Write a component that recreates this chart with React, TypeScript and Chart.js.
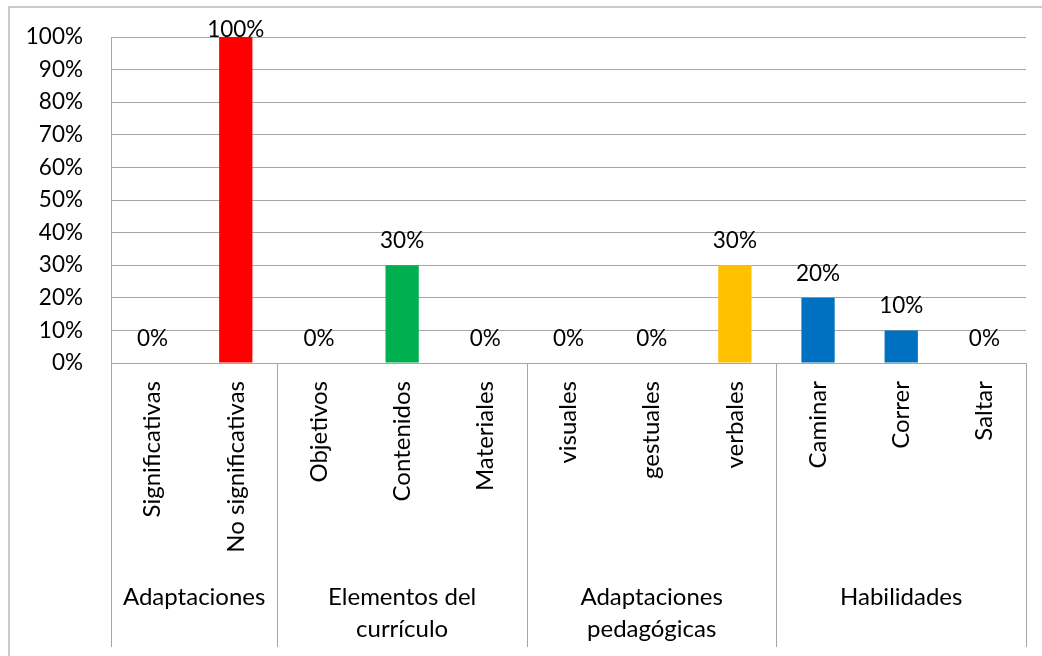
import React, { useEffect, useRef } from "react";
import { Chart, registerables } from "chart.js";

Chart.register(...registerables);

const categories = [
  "Significativas",
  "No significativas",
  "Objetivos",
  "Contenidos",
  "Materiales",
  "visuales",
  "gestuales",
  "verbales",
  "Caminar",
  "Correr",
  "Saltar",
];
const values = [0, 100, 0, 30, 0, 0, 0, 30, 20, 10, 0];
const groupLabels = [
  ["Adaptaciones"],
  ["Elementos del", "currículo"],
  ["Adaptaciones", "pedagógicas"],
  ["Habilidades"],
];
const groupSizes = [2, 3, 3, 3];
const yTicks = { min: 0, max: 100, step: 10 };

const barColors = [
  "#FF0000",
  "#FF0000",
  "#00B050",
  "#00B050",
  "#00B050",
  "#FFC000",
  "#FFC000",
  "#FFC000",
  "#0070C0",
  "#0070C0",
  "#0070C0",
];

const FONT = "Lato";
const FS_NUM = 22.5;
const FS_TXT = 24;
const GRID = "#a6a6a6";

const decorPlugin = {
  id: "decor",
  beforeDraw(chart: any) {
    const ctx = chart.ctx;
    ctx.save();
    ctx.fillStyle = "#ffffff";
    ctx.fillRect(0, 0, chart.width, chart.height);
    ctx.strokeStyle = "#b8b8b8";
    ctx.lineWidth = 1.5;
    ctx.strokeRect(9, 7, chart.width + 20, chart.height + 20);
    ctx.restore();
  },
  afterDraw(chart: any) {
    const ctx = chart.ctx;
    const xs = chart.scales.x;
    const area = chart.chartArea;
    const n = categories.length;
    const w = (area.right - area.left) / n;
    ctx.save();
    ctx.strokeStyle = GRID;
    ctx.lineWidth = 1;
    let idx = 0;
    const bounds = [0];
    groupSizes.forEach((s) => {
      idx += s;
      bounds.push(idx);
    });
    bounds.forEach((b) => {
      const x = Math.round(area.left + b * w) + 0.5;
      ctx.beginPath();
      ctx.moveTo(x, area.bottom);
      ctx.lineTo(x, xs.bottom);
      ctx.stroke();
    });
    ctx.fillStyle = "#000";
    ctx.font = `${FS_TXT}px ${FONT}`;
    ctx.textAlign = "center";
    ctx.textBaseline = "middle";
    for (let g = 0; g < groupLabels.length; g++) {
      const cx = area.left + ((bounds[g] + bounds[g + 1]) / 2) * w;
      groupLabels[g].forEach((line, i) => {
        ctx.fillText(line, cx, xs.bottom - 50 + i * 32);
      });
    }
    // data labels
    const meta = chart.getDatasetMeta(0);
    ctx.font = `${FS_NUM}px ${FONT}`;
    ctx.textBaseline = "alphabetic";
    meta.data.forEach((bar: any, i: number) => {
      const y = Math.max(bar.y - 17, area.top);
      ctx.fillText(values[i] + "%", bar.x, y);
    });
    ctx.restore();
  },
};

export default function App() {
  const ref = useRef<HTMLCanvasElement>(null);
  useEffect(() => {
    if (!ref.current) return;
    const chart = new Chart(ref.current, {
      type: "bar",
      data: {
        labels: categories,
        datasets: [
          {
            data: values,
            backgroundColor: barColors,
            barPercentage: 0.4,
            categoryPercentage: 1,
          },
        ],
      },
      options: {
        animation: false,
        responsive: true,
        maintainAspectRatio: false,
        layout: { padding: { top: 37, right: 16, bottom: 9, left: 0 } },
        plugins: {
          legend: { display: false },
          tooltip: { enabled: false },
        },
        scales: {
          x: {
            grid: { display: false, drawTicks: false },
            border: { display: false },
            ticks: {
              autoSkip: false,
              minRotation: 90,
              maxRotation: 90,
              padding: 18,
              color: "#000",
              font: { family: FONT, size: FS_TXT },
            },
            afterFit(scale: any) {
              scale.height = 284;
            },
          },
          y: {
            min: yTicks.min,
            max: yTicks.max,
            grid: {
              color: GRID,
              drawTicks: true,
              tickLength: 28,
              tickColor: "rgba(0,0,0,0)",
              lineWidth: 1,
            },
            border: { display: true, color: GRID, width: 1 },
            ticks: {
              stepSize: yTicks.step,
              padding: 0,
              color: "#000",
              font: { family: FONT, size: FS_NUM },
              callback: (v: any) => v + "%",
            },
            afterFit(scale: any) {
              scale.width = 111;
            },
          },
        },
      },
      plugins: [decorPlugin],
    });
    return () => chart.destroy();
  }, []);
  return (
    <div style={{ position: "absolute", left: 0, top: 0, width: 1042, height: 656 }}>
      <canvas ref={ref} />
    </div>
  );
}
